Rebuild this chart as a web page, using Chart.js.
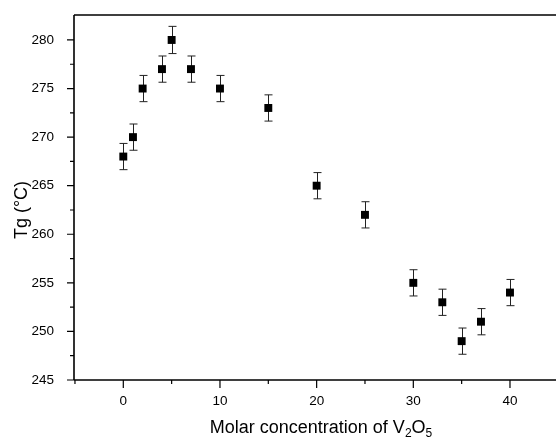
<!DOCTYPE html>
<html>
<head>
<meta charset="utf-8">
<script src="https://cdn.jsdelivr.net/npm/chart.js@4"></script>
<style>
html,body{margin:0;padding:0;background:#fff;}
#wrap{width:556px;height:439px;}
</style>
</head>
<body>
<div id="wrap"><canvas id="c" width="556" height="439"></canvas></div>
<script>
const concentration = [0, 1, 2, 4, 5, 7, 10, 15, 20, 25, 30, 33, 35, 37, 40];
const tg = [268, 270, 275, 277, 280, 277, 275, 273, 265, 262, 255, 253, 249, 251, 254];
const tgError = [1.35, 1.35, 1.35, 1.35, 1.4, 1.35, 1.35, 1.35, 1.35, 1.35, 1.35, 1.35, 1.35, 1.35, 1.35];
const xTicks = [-5, 0, 5, 10, 15, 20, 25, 30, 35, 40];
const yTicks = [245, 247.5, 250, 252.5, 255, 257.5, 260, 262.5, 265, 267.5, 270, 272.5, 275, 277.5, 280];
const xTitle = ["Molar concentration of V", "2", "O", "5"];
const yTitle = "Tg (\u00B0C)";

const FONT = "'Liberation Sans', Arial, sans-serif";

const framePlugin = {
  id: 'frame',
  beforeDatasetsDraw(chart) {
    const ctx = chart.ctx;
    const xs = chart.scales.x, ys = chart.scales.y;
    ctx.save();
    ctx.strokeStyle = '#222';
    ctx.lineWidth = 1;
    const cap = 4;
    concentration.forEach((xv, i) => {
      const px = Math.round(xs.getPixelForValue(xv)) + 0.5;
      const top = ys.getPixelForValue(tg[i] + tgError[i]);
      const bot = ys.getPixelForValue(tg[i] - tgError[i]);
      ctx.beginPath();
      ctx.moveTo(px, top); ctx.lineTo(px, bot);
      ctx.moveTo(px - cap, top); ctx.lineTo(px + cap, top);
      ctx.moveTo(px - cap, bot); ctx.lineTo(px + cap, bot);
      ctx.stroke();
    });
    ctx.restore();
  },
  afterDraw(chart) {
    const ctx = chart.ctx;
    const a = chart.chartArea;
    const xs = chart.scales.x, ys = chart.scales.y;
    ctx.save();
    ctx.strokeStyle = '#000';
    ctx.lineWidth = 1.6;
    ctx.beginPath();
    ctx.moveTo(a.left, a.top); ctx.lineTo(chart.width, a.top);
    ctx.moveTo(a.left, a.top); ctx.lineTo(a.left, a.bottom);
    ctx.moveTo(a.left, a.bottom); ctx.lineTo(chart.width, a.bottom);
    ctx.stroke();
    ctx.lineWidth = 1.2;
    ctx.beginPath();
    yTicks.forEach(v => {
      const py = ys.getPixelForValue(v);
      const len = (v % 5 === 0) ? 7 : 4;
      ctx.moveTo(a.left, py); ctx.lineTo(a.left - len, py);
    });
    xTicks.forEach(v => {
      const px = xs.getPixelForValue(v);
      const len = (v % 10 === 0) ? 8 : 4;
      ctx.moveTo(px, a.bottom); ctx.lineTo(px, a.bottom + len);
    });
    ctx.stroke();

    // axis titles
    ctx.fillStyle = '#000';
    ctx.textBaseline = 'alphabetic';
    ctx.textAlign = 'left';
    const big = "18px " + FONT, small = "12px " + FONT;
    ctx.font = big;
    const w0 = ctx.measureText(xTitle[0]).width;
    const w2 = ctx.measureText(xTitle[2]).width;
    ctx.font = small;
    const w1 = ctx.measureText(xTitle[1]).width;
    const w3 = ctx.measureText(xTitle[3]).width;
    const total = w0 + w1 + w2 + w3;
    let x = 321 - total / 2;
    const base = 433;
    ctx.font = big; ctx.fillText(xTitle[0], x, base); x += w0;
    ctx.font = small; ctx.fillText(xTitle[1], x, base + 4); x += w1;
    ctx.font = big; ctx.fillText(xTitle[2], x, base); x += w2;
    ctx.font = small; ctx.fillText(xTitle[3], x, base + 4);

    ctx.translate(27, 210);
    ctx.rotate(-Math.PI / 2);
    ctx.font = big;
    ctx.textAlign = 'center';
    ctx.fillText(yTitle, 0, 0);
    ctx.restore();
  }
};

new Chart(document.getElementById('c'), {
  type: 'scatter',
  data: {
    datasets: [{
      label: 'Tg',
      data: concentration.map((x, i) => ({x: x, y: tg[i]})),
      pointStyle: 'rect',
      pointRadius: 5.6,
      pointHoverRadius: 5.6,
      backgroundColor: '#000',
      borderColor: '#000',
      borderWidth: 0
    }]
  },
  options: {
    responsive: false,
    animation: false,
    events: [],
    layout: { autoPadding: false, padding: { top: 15, right: 0, left: 0, bottom: 0 } },
    plugins: { legend: { display: false }, tooltip: { enabled: false }, title: { display: false } },
    scales: {
      x: {
        type: 'linear',
        min: -5.1,
        max: 44.76,
        grid: { display: false },
        border: { display: false },
        afterBuildTicks: s => { s.ticks = xTicks.map(v => ({value: v})); },
        afterFit: s => { s.height = 59; s.paddingLeft = 0; s.paddingRight = 0; s.paddingTop = 0; s.paddingBottom = 0; },
        ticks: {
          autoSkip: false,
          maxRotation: 0,
          padding: 5,
          color: '#000',
          font: { family: FONT, size: 13.5 },
          callback: v => (v % 10 === 0 ? String(v) : '')
        }
      },
      y: {
        type: 'linear',
        min: 245,
        max: 282.57,
        grid: { display: false },
        border: { display: false },
        afterBuildTicks: s => { s.ticks = yTicks.map(v => ({value: v})); },
        afterFit: s => { s.width = 74; s.paddingLeft = 0; s.paddingRight = 0; s.paddingTop = 0; s.paddingBottom = 0; },
        ticks: {
          autoSkip: false,
          padding: 12,
          color: '#000',
          font: { family: FONT, size: 13.5 },
          callback: v => (v % 5 === 0 ? String(v) : '')
        }
      }
    }
  },
  plugins: [framePlugin]
});
</script>
</body>
</html>
